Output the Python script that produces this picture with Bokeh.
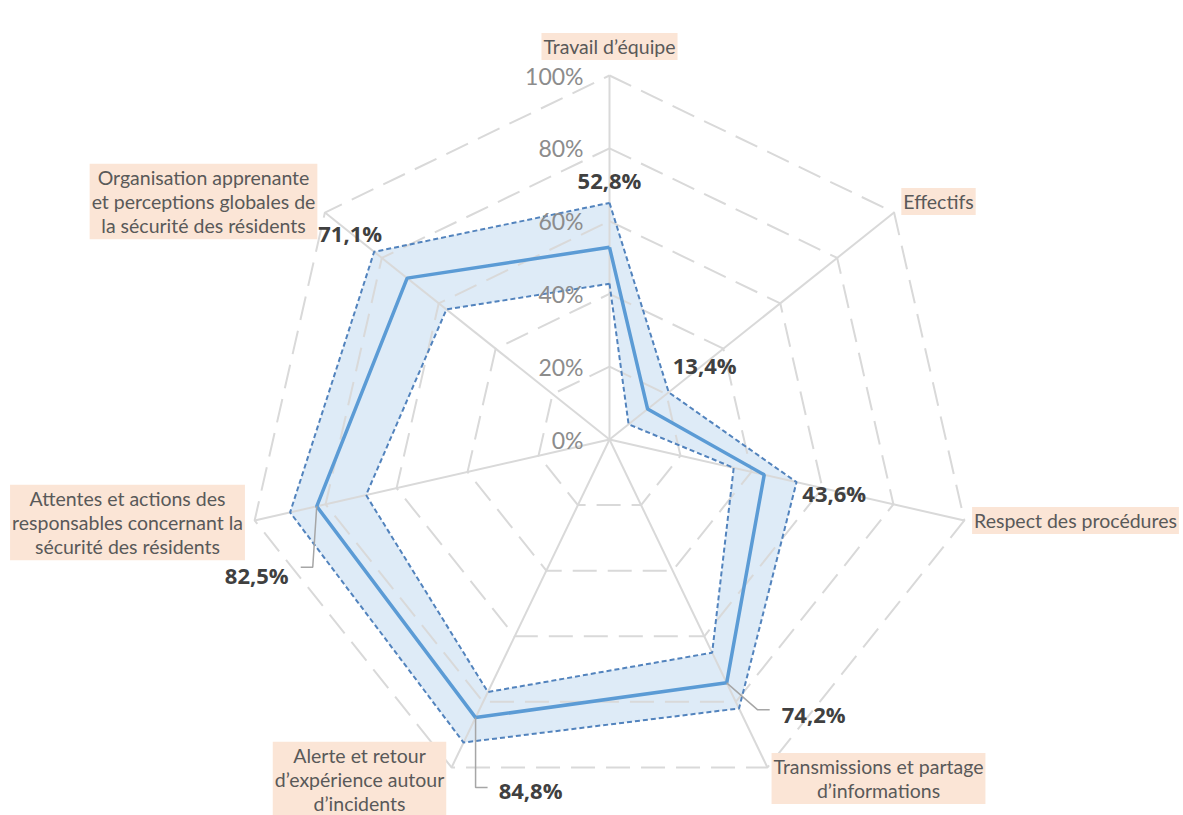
import numpy as np
from bokeh.plotting import figure
from bokeh.models import Range1d
from bokeh.core.properties import value
from bokeh.embed import file_html
from bokeh.resources import INLINE

# ---------------- data ----------------
categories = [
    "Travail d’équipe",
    "Effectifs",
    "Respect des procédures",
    "Transmissions et partage\nd’informations",
    "Alerte et retour\nd’expérience autour\nd’incidents",
    "Attentes et actions des\nresponsables concernant la\nsécurité des résidents",
    "Organisation apprenante\net perceptions globales de\nla sécurité des résidents",
]
mean_values = [52.8, 13.4, 43.6, 74.2, 84.8, 82.5, 71.1]
upper_values = [65.0, 20.8, 52.7, 82.0, 92.4, 90.0, 82.7]
lower_values = [42.8, 6.7, 35.0, 65.0, 77.0, 68.6, 57.3]
value_labels = ["52,8%", "13,4%", "43,6%", "74,2%", "84,8%", "82,5%", "71,1%"]
tick_values = [0, 20, 40, 60, 80, 100]
tick_labels = ["0%", "20%", "40%", "60%", "80%", "100%"]

# ---------------- layout ----------------
W, H = 1183, 815
CX, CY = 609, 439       # centre in pixels
S = 3.64                # pixels per percent
N = len(categories)
ang = np.radians(90 - np.arange(N) * 360.0 / N)


def polar(vals):
    v = np.asarray(vals, dtype=float)
    return v * np.cos(ang), v * np.sin(ang)


def px(x, y):
    return (x - CX) / S, (CY - y) / S


p = figure(width=W, height=H, output_backend="svg", toolbar_location=None,
           x_range=Range1d(-CX / S, (W - CX) / S), y_range=Range1d(-(H - CY) / S, CY / S),
           x_axis_type=None, y_axis_type=None, min_border=0,
           outline_line_color=None, background_fill_color="white")
p.grid.visible = False

GRID = "#d9d9d9"

# band (upper - lower)
ux, uy = polar(upper_values)
lx, ly = polar(lower_values)
p.multi_polygons(xs=[[[list(ux), list(lx)]]], ys=[[[list(uy), list(ly)]]],
                 fill_color="#deebf7", fill_alpha=1.0, line_color=None)

# rings
for t in tick_values[1:]:
    rx, ry = polar([t] * N)
    p.line(list(rx) + [rx[0]], list(ry) + [ry[0]], line_color=GRID, line_width=2,
           line_dash="24 11")
# spokes
sx, sy = polar([100] * N)
p.segment(x0=[0] * N, y0=[0] * N, x1=list(sx), y1=list(sy), line_color=GRID, line_width=2)

# band edges
for bx, by in ((ux, uy), (lx, ly)):
    p.line(list(bx) + [bx[0]], list(by) + [by[0]], line_color="#5283bd", line_width=2,
           line_dash="5 3")

# mean line
mx, my = polar(mean_values)
p.line(list(mx) + [mx[0]], list(my) + [my[0]], line_color="#5b9bd5", line_width=3.5)

# tick labels along the top spoke
tx = [(583 - CX) / S] * len(tick_values)
ty = list(np.array(tick_values, dtype=float))
p.text(x=tx, y=ty, text=tick_labels, text_align="right", text_baseline="middle",
       text_font=value("Lato"), text_font_size="23px", text_color="#8c8c8c")

# leader lines (pixel offsets relative to the data point)
leaders = {3: [(0, 0), (31, 27), (43, 27)],
           4: [(0, 0), (0, 70), (12, 70)],
           5: [(0, 0), (-4, 61), (-16, 61)]}
for i, pts in leaders.items():
    xs_ = [mx[i] + dx / S for dx, dy in pts]
    ys_ = [my[i] - dy / S for dx, dy in pts]
    p.line(xs_, ys_, line_color="#a6a6a6", line_width=1.5)

# value labels (pixel offsets from the data point)
offsets = [(0, -67), (57, -44), (70, 18), (87, 31), (55, 72), (-60, 69), (-57, -45)]
vlx = [mx[i] + offsets[i][0] / S for i in range(N)]
vly = [my[i] - offsets[i][1] / S for i in range(N)]
p.text(x=vlx, y=vly, text=value_labels, text_align="center", text_baseline="middle",
       text_font=value("Open Sans"), text_font_style="bold", text_font_size="22px",
       text_color="#404040")

# category labels
cat_px = [(609, 46), (938, 201), (1075, 520), (878, 778), (359, 779), (127, 522), (203, 201)]
cx_ = [px(a, b)[0] for a, b in cat_px]
cy_ = [px(a, b)[1] for a, b in cat_px]
p.text(x=cx_, y=cy_, text=categories, text_align="center", text_baseline="middle",
       text_font=value("Lato"), text_font_size="19.5px", text_color="#595959",
       text_line_height=1.05, background_fill_color="#fbe5d6", padding=2)

open("out.html", "w").write(file_html(p, INLINE))
